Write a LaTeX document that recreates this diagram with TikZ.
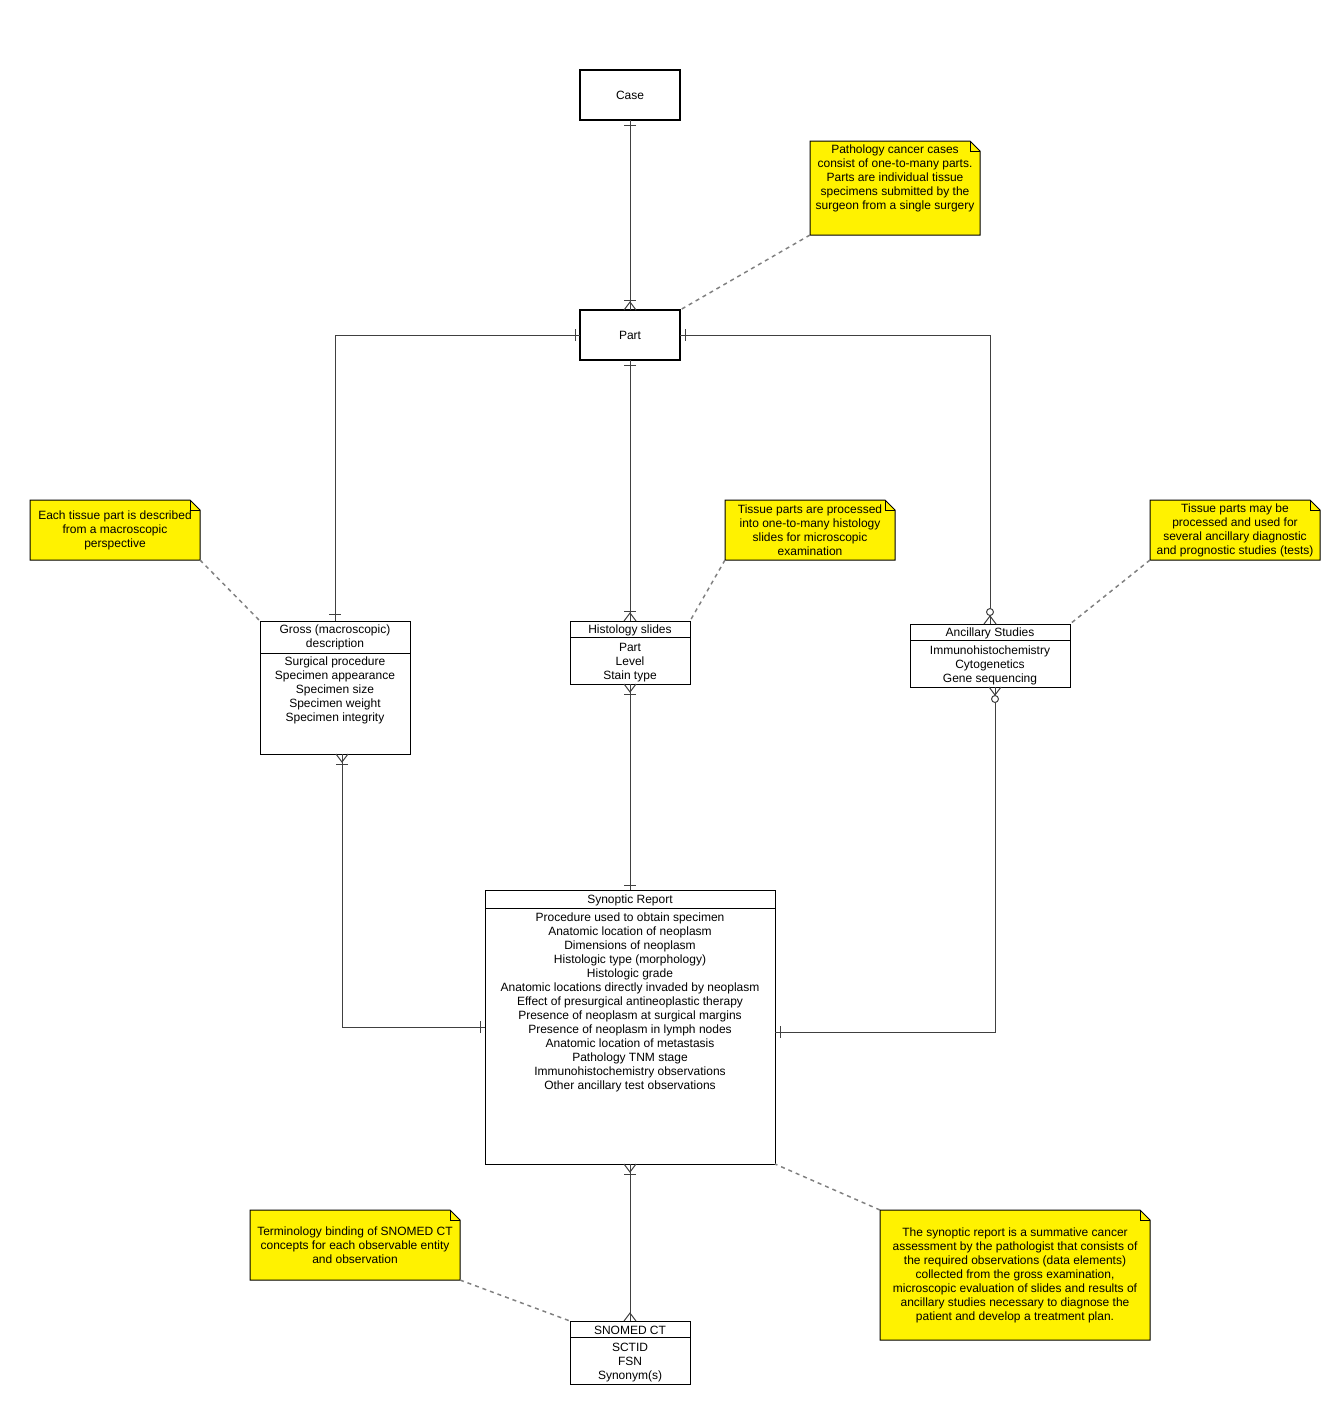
\documentclass[tikz,border=0pt]{standalone}
\usepackage{fontspec}
\setmainfont{Liberation Sans}
\usetikzlibrary{calc,backgrounds}
\tikzset{
  every node/.style={font=\fontsize{9}{10.5}\selectfont},
  bigbox/.style={draw=black, line width=1.5pt, inner sep=0pt, outer sep=0pt, minimum width=75pt, minimum height=37.5pt},
  entity/.style={draw=black, line width=0.75pt, inner sep=0pt, outer sep=0pt},
  divider/.style={draw=black, line width=0.75pt},
  etext/.style={inner sep=0pt, align=center},
  notebox/.style={inner sep=0pt, outer sep=0pt, align=center},
  notefill/.style={fill=yellow, draw=black, line width=0.75pt},
  noteline/.style={draw=black, line width=0.75pt},
  conn/.style={draw=black!75, line width=0.75pt},
  notelink/.style={draw=gray, line width=1.1pt, dash pattern=on 3pt off 3pt},
}
\newcommand\ERbar[4]{\draw[conn] ($(#1)+({#4*(#2)+6*(#3)},{#4*(#3)-6*(#2)})$) -- ($(#1)+({#4*(#2)-6*(#3)},{#4*(#3)+6*(#2)})$);}
\newcommand\ERfoot[4]{\draw[conn] ($(#1)+({6*(#3)},{-6*(#2)})$) -- ($(#1)+({#4*(#2)},{#4*(#3)})$) -- ($(#1)+({-6*(#3)},{6*(#2)})$);}
\newcommand\ERcirc[4]{\draw[conn,fill=white] ($(#1)+({#4*(#2)},{#4*(#3)})$) circle[radius=2.6pt];}
\newcommand\notefold[1]{%
  \filldraw[notefill] (#1.south west) -- (#1.north west) -- ([xshift=-7.5pt]#1.north east) -- ([yshift=-7.5pt]#1.north east) -- (#1.south east) -- cycle;
  \draw[noteline] ([xshift=-7.5pt]#1.north east) -- ([xshift=-7.5pt,yshift=-7.5pt]#1.north east) -- ([yshift=-7.5pt]#1.north east);}
\begin{document}
\begin{tikzpicture}[x=0.75pt,y=-0.75pt]
\useasboundingbox (0,0) rectangle (1340,1406);

% main entities
\node[bigbox] (case) at (630,95) {Case};
\node[bigbox] (part) at (630,335) {Part};

\node[entity, minimum width=112.5pt, minimum height=99.75pt] (gross) at (335,687.5) {};
\node[etext] (grossh) at (335,637) {Gross (macroscopic)\\description};
\draw[divider] (gross.west |- 0,653) -- (gross.east |- 0,653);
\node[etext] (grossb) at (335,690.5) {Surgical procedure\\Specimen appearance\\Specimen size\\Specimen weight\\Specimen integrity};

\node[entity, minimum width=90pt, minimum height=47.25pt] (hist) at (630,652.5) {};
\node[etext] (histh) at (630,630) {Histology slides};
\draw[divider] (hist.west |- 0,637) -- (hist.east |- 0,637);
\node[etext] (histb) at (630,662.5) {Part\\Level\\Stain type};

\node[entity, minimum width=120pt, minimum height=47.25pt] (anc) at (990,655.5) {};
\node[etext] (anch) at (990,633) {Ancillary Studies};
\draw[divider] (anc.west |- 0,640) -- (anc.east |- 0,640);
\node[etext] (ancb) at (990,665.5) {Immunohistochemistry\\Cytogenetics\\Gene sequencing};

\node[entity, minimum width=217.5pt, minimum height=205.5pt] (synop) at (630,1027) {};
\node[etext] (synoph) at (630,900) {Synoptic Report};
\draw[divider] (synop.west |- 0,908) -- (synop.east |- 0,908);
\node[etext] (synopb) at (630,1002.5) {Procedure used to obtain specimen\\Anatomic location of neoplasm\\Dimensions of neoplasm\\Histologic type (morphology)\\Histologic grade\\Anatomic locations directly invaded by neoplasm\\Effect of presurgical antineoplastic therapy\\Presence of neoplasm at surgical margins\\Presence of neoplasm in lymph nodes\\Anatomic location of metastasis\\Pathology TNM stage\\Immunohistochemistry observations\\Other ancillary test observations};

\node[entity, minimum width=90pt, minimum height=47.25pt] (snomed) at (630,1352.5) {};
\node[etext] (snomedh) at (630,1330) {SNOMED CT};
\draw[divider] (snomed.west |- 0,1337) -- (snomed.east |- 0,1337);
\node[etext] (snomedb) at (630,1362.5) {SCTID\\FSN\\Synonym(s)};

% notes
\node[notebox, minimum width=127.5pt, minimum height=70.5pt] (n1) at (895,188) {Pathology cancer cases\\consist of one-to-many parts.\\Parts are individual tissue\\specimens submitted by the\\surgeon from a single surgery\\[6pt]};
\node[notebox, minimum width=127.5pt, minimum height=45pt] (neach) at (115,530) {Each tissue part is described\\from a macroscopic\\perspective};
\node[notebox, minimum width=127.5pt, minimum height=45pt] (nhist) at (810,530) {Tissue parts are processed\\into one-to-many histology\\slides for microscopic\\examination};
\node[notebox, minimum width=127.5pt, minimum height=45pt] (nanc) at (1235,530) {Tissue parts may be\\processed and used for\\several ancillary diagnostic\\and prognostic studies (tests)};
\node[notebox, minimum width=157.5pt, minimum height=52.5pt] (nterm) at (355,1245) {Terminology binding of SNOMED CT\\concepts for each observable entity\\and observation};
\node[notebox, minimum width=202.5pt, minimum height=97.5pt] (nsyn) at (1015,1275) {The synoptic report is a summative cancer\\assessment by the pathologist that consists of\\the required observations (data elements)\\collected from the gross examination,\\microscopic evaluation of slides and results of\\ancillary studies necessary to diagnose the\\patient and develop a treatment plan.};

\begin{scope}[on background layer]
  \fill[white] (0,0) rectangle (1340,1406);
  \notefold{n1}
  \notefold{neach}
  \notefold{nhist}
  \notefold{nanc}
  \notefold{nterm}
  \notefold{nsyn}
\end{scope}

% note links
\draw[notelink] (n1.south west) -- (part.north east);
\draw[notelink] (neach.south east) -- (gross.north west);
\draw[notelink] (nhist.south west) -- (hist.north east);
\draw[notelink] (nanc.south west) -- (anc.north east);
\draw[notelink] (nterm.south east) -- (snomed.north west);
\draw[notelink] (nsyn.north west) -- (synop.south east);

% connectors
\coordinate (gs) at ($(gross.south)+(7,0)$);
\coordinate (as) at ($(anc.south)+(5,0)$);
\coordinate (se) at ($(synop.east)+(0,5)$);

\draw[conn] (case.south) -- (part.north);
\draw[conn] (part.west) -| (gross.north);
\draw[conn] (part.south) -- (hist.north);
\draw[conn] (part.east) -| (anc.north);
\draw[conn] (gs) |- (synop.west);
\draw[conn] (hist.south) -- (synop.north);
\draw[conn] (as) |- (se);
\draw[conn] (synop.south) -- (snomed.north);

% markers
\ERbar{case.south}{0}{1}{5}
\ERfoot{part.north}{0}{-1}{8}\ERbar{part.north}{0}{-1}{10}
\ERbar{part.west}{-1}{0}{5}
\ERbar{gross.north}{0}{-1}{7}
\ERbar{part.south}{0}{1}{5}
\ERfoot{hist.north}{0}{-1}{8}\ERbar{hist.north}{0}{-1}{10}
\ERbar{part.east}{1}{0}{5}
\ERfoot{anc.north}{0}{-1}{8}\ERcirc{anc.north}{0}{-1}{12}
\ERfoot{gs}{0}{1}{8}\ERbar{gs}{0}{1}{10}
\ERbar{synop.west}{-1}{0}{5}
\ERfoot{hist.south}{0}{1}{8}\ERbar{hist.south}{0}{1}{10}
\ERbar{synop.north}{0}{-1}{5}
\ERfoot{as}{0}{1}{8}\ERcirc{as}{0}{1}{12}
\ERbar{se}{1}{0}{5}
\ERfoot{synop.south}{0}{1}{8}\ERbar{synop.south}{0}{1}{10}
\ERfoot{snomed.north}{0}{-1}{8}
\end{tikzpicture}
\end{document}
